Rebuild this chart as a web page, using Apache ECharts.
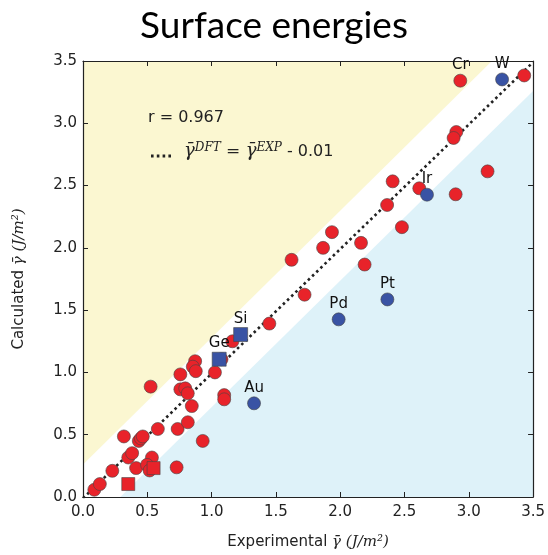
<!DOCTYPE html>
<html>
<head>
<meta charset="utf-8">
<script src="https://cdn.jsdelivr.net/npm/echarts@6/dist/echarts.min.js"></script>
<style>
  html, body { margin: 0; padding: 0; background: #fff; }
  #chart { width: 548px; height: 555px; }
</style>
</head>
<body>
<div id="chart"></div>
<script>
// unlabelled metals (red circles): [experimental, calculated]
const redCircles = [
  [0.088, 0.058], [0.131, 0.104], [0.228, 0.21], [0.318, 0.486], [0.352, 0.317],
  [0.382, 0.352], [0.413, 0.232], [0.434, 0.45], [0.45, 0.47], [0.465, 0.486],
  [0.526, 0.886], [0.536, 0.317], [0.498, 0.258], [0.518, 0.213], [0.582, 0.546],
  [0.728, 0.238], [0.736, 0.546], [0.757, 0.984], [0.757, 0.864], [0.795, 0.872],
  [0.815, 0.832], [0.846, 0.73], [0.815, 0.6], [0.872, 1.09], [0.854, 1.046],
  [0.877, 1.01], [0.931, 0.45], [1.026, 1.0], [1.098, 0.818], [1.098, 0.784],
  [1.077, 1.106], [1.162, 1.25], [1.449, 1.392], [1.622, 1.904], [1.723, 1.624],
  [1.867, 2.0], [1.936, 2.126], [2.162, 2.04], [2.19, 1.866], [2.365, 2.344],
  [2.408, 2.534], [2.48, 2.166], [2.615, 2.478], [2.898, 2.43], [2.903, 2.93],
  [2.882, 2.882], [3.146, 2.614], [3.431, 3.384]
];
const redSquares = [[0.352, 0.104], [0.549, 0.232]];

// labelled elements
const redLabelNames = ['Cr'];
const redLabelExp = [2.934];
const redLabelDft = [3.342];

const blueCircleNames = ['W', 'Ir', 'Pd', 'Pt', 'Au'];
const blueCircleExp = [3.259, 2.675, 1.988, 2.367, 1.33];
const blueCircleDft = [3.352, 2.427, 1.426, 1.586, 0.752];

const blueSquareNames = ['Si', 'Ge'];
const blueSquareExp = [1.226, 1.059];
const blueSquareDft = [1.304, 1.106];

// shaded bands (lines bounding the yellow / blue regions)
const upperBand = [[0, 0.26], [3.18, 3.5]];
const lowerBand = [[0.29, 0], [3.5, 3.26]];
const fitOffset = -0.01;
const axisMax = 3.5;
const rValue = 0.967;

const ticks = ['0.0', '0.5', '1.0', '1.5', '2.0', '2.5', '3.0', '3.5'];

const RED = '#e8232a';
const BLUE = '#3953a4';
const EDGE = '#444';

function named(names, xs, ys) {
  return names.map((n, i) => ({ name: n, value: [xs[i], ys[i]] }));
}

const chart = echarts.init(document.getElementById('chart'));

function poly(points, color) {
  return function (params, api) {
    const pts = points.map(p => api.coord(p));
    return {
      type: 'polygon',
      shape: { points: pts },
      style: { fill: color },
      silent: true
    };
  };
}

const baseAxis = {
  type: 'value',
  min: 0,
  max: axisMax,
  interval: 0.5,
  splitLine: { show: false },
  axisLine: { show: true, onZero: false, lineStyle: { color: '#222', width: 1.2 } },
  axisTick: { show: true, inside: true, length: 5, lineStyle: { color: '#222' } }
};

const labelStyle = {
  show: true,
  position: 'top',
  distance: 1,
  formatter: '{b}',
  fontFamily: 'DejaVu Sans',
  fontSize: 15,
  color: '#111'
};

chart.setOption({
  animation: false,
  backgroundColor: '#fff',
  title: {
    text: 'Surface energies',
    left: 'center',
    top: 3,
    textStyle: { fontFamily: 'Lato', fontSize: 37, fontWeight: 'normal', color: '#000' }
  },
  grid: { left: 83, right: 10, top: 61, bottom: 56 },
  xAxis: [
    Object.assign({}, baseAxis, {
      position: 'bottom',
      name: 'Experimental {i|γ̄ (J/m²)}',
      nameLocation: 'middle',
      nameGap: 38,
      nameTextStyle: {
        fontFamily: 'DejaVu Sans', fontSize: 15, color: '#222',
        rich: { i: { fontFamily: 'DejaVu Serif', fontStyle: 'italic', fontSize: 15, color: '#222' } }
      },
      axisLabel: {
        fontFamily: 'DejaVu Sans', fontSize: 15, color: '#222', margin: 8,
        formatter: v => ticks[Math.round(v / 0.5)]
      }
    }),
    Object.assign({}, baseAxis, { position: 'top', axisLabel: { show: false } })
  ],
  yAxis: [
    Object.assign({}, baseAxis, {
      position: 'left',
      name: 'Calculated {i|γ̄ (J/m²)}',
      nameLocation: 'middle',
      nameGap: 56,
      nameTextStyle: {
        fontFamily: 'DejaVu Sans', fontSize: 15, color: '#222',
        rich: { i: { fontFamily: 'DejaVu Serif', fontStyle: 'italic', fontSize: 15, color: '#222' } }
      },
      axisLabel: {
        fontFamily: 'DejaVu Sans', fontSize: 15, color: '#222', margin: 6,
        formatter: v => ticks[Math.round(v / 0.5)]
      }
    }),
    Object.assign({}, baseAxis, { position: 'right', axisLabel: { show: false } })
  ],
  series: [
    {
      type: 'custom',
      renderItem: poly([upperBand[0], upperBand[1], [0, axisMax]], '#fbf7d1'),
      data: [0],
      clip: true,
      silent: true,
      z: 0
    },
    {
      type: 'custom',
      renderItem: poly([lowerBand[0], lowerBand[1], [axisMax, 0]], '#def2f9'),
      data: [0],
      clip: true,
      silent: true,
      z: 0
    },
    {
      type: 'line',
      data: [[0, 0 + fitOffset], [axisMax, axisMax + fitOffset]],
      symbol: 'none',
      clip: true,
      lineStyle: { color: '#222', width: 2.6, type: [2.6, 3.2], cap: 'butt' },
      z: 1
    },
    {
      type: 'scatter',
      data: redCircles,
      symbol: 'circle',
      symbolSize: 13,
      itemStyle: { color: RED, borderColor: EDGE, borderWidth: 0.6, opacity: 1 },
      z: 2
    },
    {
      type: 'scatter',
      data: redSquares,
      symbol: 'rect',
      symbolSize: 13,
      itemStyle: { color: RED, borderColor: EDGE, borderWidth: 0.6, opacity: 1 },
      z: 2
    },
    {
      type: 'scatter',
      data: named(redLabelNames, redLabelExp, redLabelDft),
      symbol: 'circle',
      symbolSize: 13,
      itemStyle: { color: RED, borderColor: EDGE, borderWidth: 0.6, opacity: 1 },
      label: labelStyle,
      z: 3
    },
    {
      type: 'scatter',
      data: named(blueCircleNames, blueCircleExp, blueCircleDft),
      symbol: 'circle',
      symbolSize: 13,
      itemStyle: { color: BLUE, borderColor: EDGE, borderWidth: 0.6, opacity: 1 },
      label: labelStyle,
      z: 3
    },
    {
      type: 'scatter',
      data: named(blueSquareNames, blueSquareExp, blueSquareDft),
      symbol: 'rect',
      symbolSize: 14,
      itemStyle: { color: BLUE, borderColor: EDGE, borderWidth: 0.6, opacity: 1 },
      label: labelStyle,
      z: 3
    }
  ],
  graphic: [
    {
      type: 'text',
      left: 148,
      top: 110,
      z: 10,
      style: {
        text: 'r = ' + rValue.toFixed(3),
        fontFamily: 'DejaVu Sans',
        fontSize: 16,
        fill: '#222'
      }
    },
    {
      type: 'line',
      z: 10,
      shape: { x1: 151, y1: 156, x2: 172, y2: 156 },
      style: { stroke: '#222', lineWidth: 3, lineDash: [2.6, 3.2] }
    },
    {
      type: 'text',
      left: 184,
      top: 142,
      z: 10,
      style: {
        text: '{i|γ̄}{s|DFT}{e| = }{i|γ̄}{s|EXP}{n| - ' + Math.abs(fitOffset).toFixed(2) + '}',
        rich: {
          i: { fontFamily: 'DejaVu Serif', fontStyle: 'italic', fontSize: 18, fill: '#222', verticalAlign: 'bottom' },
          s: { fontFamily: 'DejaVu Serif', fontStyle: 'italic', fontSize: 12, fill: '#222', verticalAlign: 'top' },
          e: { fontFamily: 'DejaVu Serif', fontSize: 17, fill: '#222', verticalAlign: 'bottom' },
          n: { fontFamily: 'DejaVu Sans', fontSize: 16, fill: '#222', verticalAlign: 'bottom' }
        }
      }
    }
  ]
});
</script>
</body>
</html>
